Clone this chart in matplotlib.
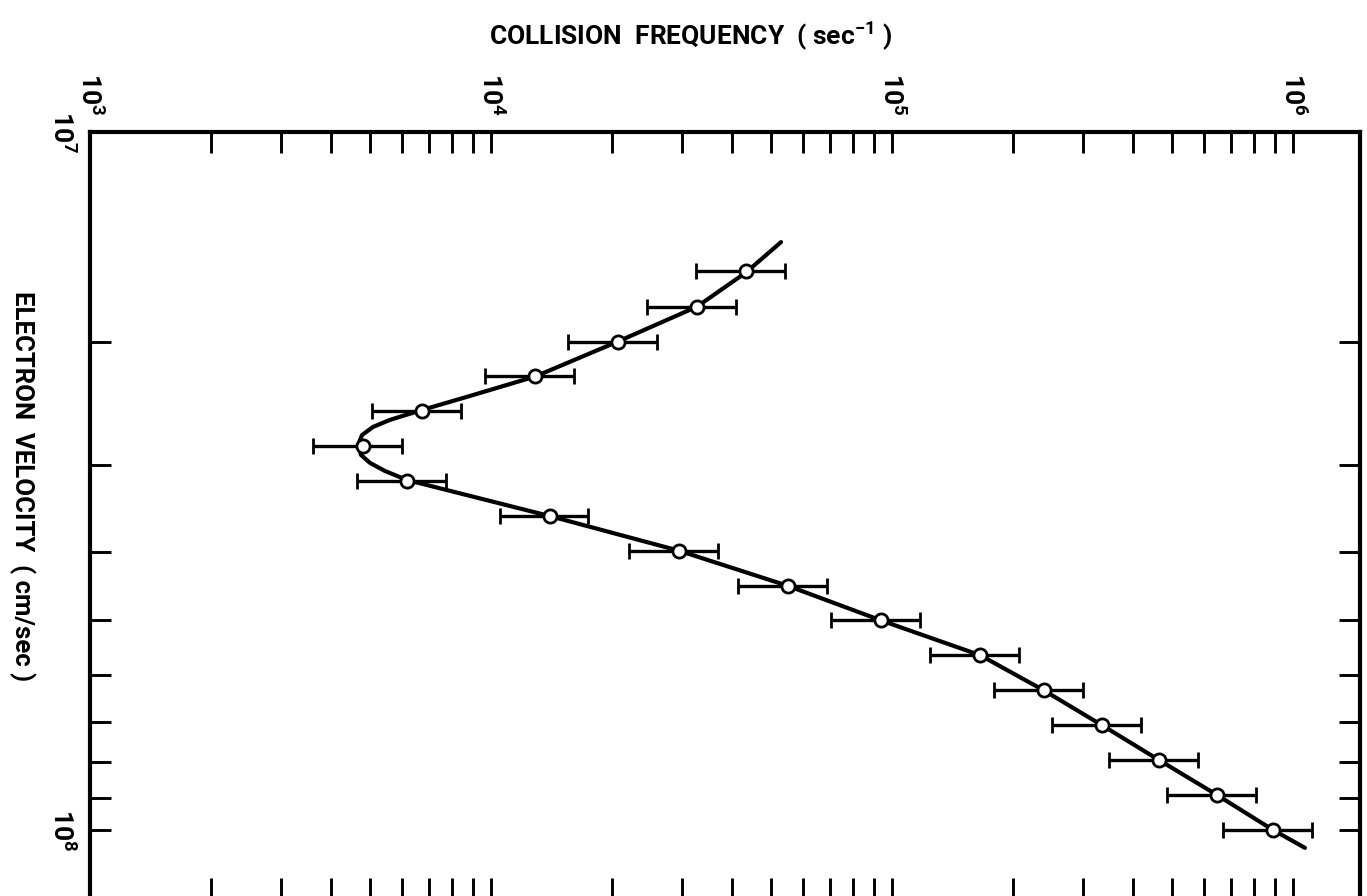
import numpy as np
import matplotlib
matplotlib.use('Agg')
import matplotlib.pyplot as plt
from matplotlib import font_manager as fm
from matplotlib.ticker import LogLocator, NullFormatter, FixedLocator, FixedFormatter

# Data
velocity = [1.58e7, 1.78e7, 2.00e7, 2.24e7, 2.51e7, 2.82e7, 3.16e7, 3.55e7, 3.98e7,
            4.47e7, 5.01e7, 5.62e7, 6.31e7, 7.08e7, 7.94e7, 8.91e7, 1.00e8]
frequency = [4.32e4, 3.26e4, 2.07e4, 1.29e4, 6.73e3, 4.80e3, 6.17e3, 1.40e4, 2.94e4,
             5.50e4, 9.39e4, 1.66e5, 2.39e5, 3.34e5, 4.63e5, 6.46e5, 8.91e5]
rel_err = 0.25  # error bars are +/- 25 %

# fitted curve
curve_vel = [1.438e7, 1.59e7, 1.78e7, 1.993e7, 2.24e7, 2.389e7, 2.502e7, 2.585e7, 2.646e7,
             2.717e7, 2.808e7, 2.902e7, 2.979e7, 3.060e7, 3.152e7, 3.55e7, 3.98e7, 4.47e7,
             5.01e7, 5.62e7, 6.31e7, 7.08e7, 7.94e7, 8.91e7, 1.0e8, 1.061e8]
curve_freq = [5.287e4, 4.32e4, 3.26e4, 2.086e4, 1.29e4, 8.86e3, 6.73e3, 5.60e3, 5.08e3,
              4.77e3, 4.66e3, 4.74e3, 4.99e3, 5.44e3, 6.17e3, 1.40e4, 2.94e4, 5.50e4,
              9.39e4, 1.66e5, 2.39e5, 3.34e5, 4.63e5, 6.46e5, 8.91e5, 1.071e6]

x_ticks = [1e3, 1e4, 1e5, 1e6]
x_labels = [r'$10^{3}$', r'$10^{4}$', r'$10^{5}$', r'$10^{6}$']
y_ticks = [1e7, 1e8]
y_labels = [r'$10^{7}$', r'$10^{8}$']


def pick(names):
    for n in names:
        try:
            fm.findfont(fm.FontProperties(family=n), fallback_to_default=False)
            return n
        except ValueError:
            pass
    return 'DejaVu Sans'


font = pick(['Liberation Sans Narrow', 'DejaVu Sans Condensed', 'Roboto', 'DejaVu Sans'])
plt.rcParams['font.family'] = [font, 'DejaVu Sans']
plt.rcParams['font.weight'] = 'bold'
plt.rcParams['mathtext.fontset'] = 'custom'
plt.rcParams['mathtext.rm'] = font + ':bold'
plt.rcParams['mathtext.it'] = font + ':bold'
plt.rcParams['mathtext.bf'] = font + ':bold'
plt.rcParams['mathtext.default'] = 'rm'

W, H = 1367, 896
fig = plt.figure(figsize=(W / 100, H / 100), dpi=100)
ax = fig.add_axes([90 / W, 1 - 899 / H, 1270 / W, 767 / H])

f = np.array(frequency)
ax.plot(curve_freq, curve_vel, color='black', lw=3, solid_capstyle='round',
        solid_joinstyle='round', zorder=2)
ax.errorbar(f, velocity, xerr=rel_err * f, fmt='o', color='black', mfc='white', mec='black',
            ms=9.5, mew=2, elinewidth=2.4, capsize=6, capthick=2.6, zorder=3)

ax.set_xscale('log')
ax.set_yscale('log')
ax.set_xlim(1e3, 1.469e6)
ax.set_ylim(1.256e8, 1e7)

for s in ax.spines.values():
    s.set_linewidth(3)

ax.xaxis.set_major_locator(FixedLocator(x_ticks))
ax.xaxis.set_major_formatter(FixedFormatter(x_labels))
ax.xaxis.set_minor_locator(LogLocator(base=10, subs=np.arange(2, 10)))
ax.xaxis.set_minor_formatter(NullFormatter())
ax.yaxis.set_major_locator(FixedLocator(y_ticks))
ax.yaxis.set_major_formatter(FixedFormatter(y_labels))
ax.yaxis.set_minor_locator(LogLocator(base=10, subs=np.arange(2, 10)))
ax.yaxis.set_minor_formatter(NullFormatter())

ax.tick_params(which='both', direction='in', length=15, width=2.1,
               top=True, bottom=True, left=True, right=True,
               labeltop=True, labelbottom=False, labelleft=True, labelright=False)
ax.tick_params(axis='x', pad=12, labelsize=19, labelrotation=-90)
ax.tick_params(axis='y', pad=11, labelsize=19, labelrotation=-90)
for t in ax.get_yticklabels():
    t.set_va('center')

fig.text(691 / W, 1 - 36 / H, r'COLLISION  FREQUENCY  ( sec$^{-1}$ )',
         ha='center', va='center', fontsize=19, fontweight='bold')
fig.text(22 / W, 1 - 486 / H, 'ELECTRON  VELOCITY  ( cm/sec )', rotation=-90,
         ha='center', va='center', fontsize=18.5, fontweight='bold')

fig.savefig('out.png', dpi=100)
